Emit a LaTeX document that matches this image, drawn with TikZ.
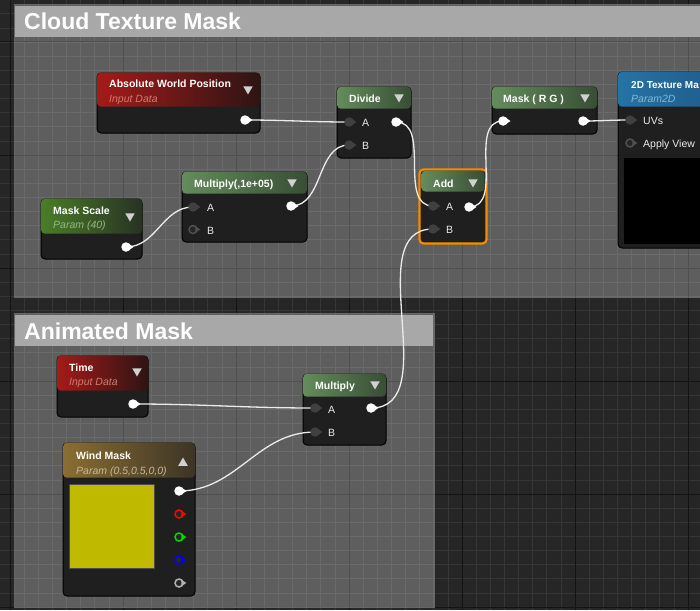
\documentclass[tikz,border=0pt]{standalone}
\usepackage{fontspec}
\setmainfont{Liberation Sans}
\usetikzlibrary{shapes.geometric}
\pgfdeclarelayer{bg}
\pgfdeclarelayer{wires}
\pgfdeclarelayer{top}
\pgfsetlayers{bg,main,wires,top}
\definecolor{canvas}{RGB}{38,38,38}
\definecolor{gridminor}{RGB}{54,54,54}
\definecolor{gridmajor}{RGB}{20,20,20}
\definecolor{combar}{RGB}{168,168,168}
\definecolor{uebody}{RGB}{31,31,31}
\definecolor{pingray}{RGB}{64,64,64}
\definecolor{hollowrim}{RGB}{80,80,80}
\definecolor{opleft}{RGB}{100,140,92}
\definecolor{opright}{RGB}{56,78,53}
\definecolor{inleft}{RGB}{165,26,26}
\definecolor{inright}{RGB}{46,20,20}
\definecolor{inlabel}{RGB}{205,125,110}
\definecolor{parleft}{RGB}{74,125,40}
\definecolor{parright}{RGB}{40,50,36}
\definecolor{parlabel}{RGB}{150,185,130}
\definecolor{vecleft}{RGB}{138,110,50}
\definecolor{vecright}{RGB}{60,52,38}
\definecolor{veclabel}{RGB}{200,185,150}
\definecolor{texleft}{RGB}{38,114,166}
\definecolor{texright}{RGB}{28,88,132}
\definecolor{texlabel}{RGB}{130,185,215}
\definecolor{swatch}{RGB}{191,186,0}
\definecolor{selorange}{RGB}{242,140,0}
\tikzset{
    ue body/.style={draw=black, line width=1pt, fill=uebody, rounded corners=4pt,
        inner sep=0pt},
    ue head/.style={rounded corners=4pt, inner sep=0pt, anchor=north},
    ue title/.style={anchor=base west, text=white, inner sep=0pt,
        font=\bfseries\fontsize{10.5}{12}\selectfont},
    ue sub/.style={anchor=base west, inner sep=0pt,
        font=\itshape\fontsize{10.5}{12}\selectfont},
    pinlab/.style={anchor=base west, text=white!92!black, inner sep=0pt,
        font=\fontsize{10.5}{12}\selectfont},
    outpin/.style={circle, fill=white, minimum size=9.5pt, inner sep=0pt},
    inpin/.style={circle, fill=pingray, minimum size=9.5pt, inner sep=0pt},
    hollowpin/.style={circle, draw=#1, line width=1.5pt, fill=black!85,
        minimum size=8pt, inner sep=0pt},
    hollowpin/.default=hollowrim,
    dropdown/.style={regular polygon, regular polygon sides=3,
        shape border rotate=180, fill=white!82!black, minimum size=11pt,
        inner sep=0pt},
    wire/.style={white!92!black, line width=1.3pt},
    comment/.style={fill=white, fill opacity=0.26, draw=black!60, line width=0.8pt},
    comment title/.style={anchor=base west, text=white, inner sep=0pt,
        font=\bfseries\fontsize{23}{26}\selectfont}
}

\begin{document}
\begin{tikzpicture}[x=1pt, y=-1pt]
    \useasboundingbox (0,0) rectangle (700,610);

    % canvas, grid and comment boxes
    \begin{pgfonlayer}{bg}
    \fill[canvas] (0,0) rectangle (700,610);
    \foreach \i in {-33,...,17}
        \draw[gridminor, line width=0.7pt] (462+\i*14.125,0) -- (462+\i*14.125,610);
    \foreach \j in {-35,...,9}
        \draw[gridminor, line width=0.7pt] (0,494+\j*14.125) -- (700,494+\j*14.125);
    \foreach \i in {-4,...,2}
        \draw[gridmajor, line width=1pt] (462+\i*113,0) -- (462+\i*113,610);
    \foreach \j in {-4,...,1}
        \draw[gridmajor, line width=1pt] (0,494+\j*113) -- (700,494+\j*113);

    \path[comment] (14,4) rectangle (706,297);
    \fill[combar] (15,6) rectangle (706,37);
    \node (cl-t) [comment title] at (24,30) {Cloud Texture Mask};

    \path[comment] (14,313) rectangle (434,607);
    \fill[combar] (15,315) rectangle (433,346);
    \node (an-t) [comment title] at (24,339) {Animated Mask};
    \end{pgfonlayer}

    % Absolute World Position
    \node (aw) [ue body, minimum width=163pt, minimum height=60pt] at (178.5,103) {};
    \node (aw-h) [ue head, minimum width=163pt, minimum height=34pt,
        left color=inleft, right color=inright] at (aw.north) {};
    \node (aw-t) [ue title] at (109,87.5) {Absolute World Position};
    \node (aw-s) [ue sub, text=inlabel] at (109,102.5) {Input Data};
    \node (aw-d) [dropdown] at (248,89) {};

    % Divide
    \node (dv) [ue body, minimum width=74pt, minimum height=71pt] at (374,122.5) {};
    \node (dv-h) [ue head, minimum width=74pt, minimum height=22pt,
        left color=opleft, right color=opright] at (dv.north) {};
    \node (dv-t) [ue title] at (349,102) {Divide};
    \node (dv-d) [dropdown] at (399,97) {};
    \node (dv-la) [pinlab] at (362,126) {A};
    \node (dv-lb) [pinlab] at (362,149) {B};

    % Mask (R G)
    \node (mk) [ue body, minimum width=105pt, minimum height=47pt] at (544.5,110.5) {};
    \node (mk-h) [ue head, minimum width=105pt, minimum height=22pt,
        left color=opleft, right color=opright] at (mk.north) {};
    \node (mk-t) [ue title] at (503,102) {Mask ( R G )};
    \node (mk-d) [dropdown] at (585,97) {};

    % 2D Texture sample
    \node (tx) [ue body, minimum width=124pt, minimum height=176pt] at (680,160) {};
    \node (tx-h) [ue head, minimum width=124pt, minimum height=35pt,
        left color=texleft, right color=texright] at (tx.north) {};
    \node (tx-t) [ue title, font=\bfseries\fontsize{10}{12}\selectfont] at (631,88) {2D Texture Ma};
    \node (tx-s) [ue sub, text=texlabel] at (631,102) {Param2D};
    \node (tx-lu) [pinlab] at (643,124) {UVs};
    \node (tx-la) [pinlab] at (643,147) {Apply View};
    \node (tx-pv) [fill=black, inner sep=0pt, minimum width=84pt,
        minimum height=86pt] at (666,201) {};

    % Multiply(,1e+05)
    \node (m1) [ue body, minimum width=125pt, minimum height=70pt] at (244.5,207) {};
    \node (m1-h) [ue head, minimum width=125pt, minimum height=22pt,
        left color=opleft, right color=opright] at (m1.north) {};
    \node (m1-t) [ue title] at (194,187) {Multiply(,1e+05)};
    \node (m1-d) [dropdown] at (292,182) {};
    \node (m1-la) [pinlab] at (207,211) {A};
    \node (m1-lb) [pinlab] at (207,234) {B};

    % Mask Scale
    \node (ms) [ue body, minimum width=101pt, minimum height=60pt] at (91.5,229) {};
    \node (ms-h) [ue head, minimum width=101pt, minimum height=35pt,
        left color=parleft, right color=parright] at (ms.north) {};
    \node (ms-t) [ue title] at (53,214) {Mask Scale};
    \node (ms-s) [ue sub, text=parlabel] at (53,228.5) {Param (40)};
    \node (ms-d) [dropdown] at (130,216) {};

    % Add (selected)
    \node (ad) [ue body, draw=selorange, line width=2.2pt, minimum width=67pt,
        minimum height=74pt] at (453,206.5) {};
    \node (ad-h) [ue head, minimum width=63pt, minimum height=21pt,
        left color=opleft, right color=opright] at ([yshift=-2pt]ad.north) {};
    \node (ad-t) [ue title] at (433,187) {Add};
    \node (ad-d) [dropdown] at (473,182) {};
    \node (ad-la) [pinlab] at (446,210.5) {A};
    \node (ad-lb) [pinlab] at (446,233.5) {B};

    % Time
    \node (tm) [ue body, minimum width=91pt, minimum height=61pt] at (102.5,386.5) {};
    \node (tm-h) [ue head, minimum width=91pt, minimum height=35pt,
        left color=inleft, right color=inright] at (tm.north) {};
    \node (tm-t) [ue title] at (69,371) {Time};
    \node (tm-s) [ue sub, text=inlabel] at (69,385.5) {Input Data};
    \node (tm-d) [dropdown] at (137,371) {};

    % Multiply
    \node (m2) [ue body, minimum width=83pt, minimum height=71pt] at (344.5,409.5) {};
    \node (m2-h) [ue head, minimum width=83pt, minimum height=23pt,
        left color=opleft, right color=opright] at (m2.north) {};
    \node (m2-t) [ue title] at (315,389.5) {Multiply};
    \node (m2-d) [dropdown] at (375,384) {};
    \node (m2-la) [pinlab] at (328,413) {A};
    \node (m2-lb) [pinlab] at (328,436) {B};

    % Wind Mask
    \node (wm) [ue body, minimum width=132pt, minimum height=153pt] at (129,519.5) {};
    \node (wm-h) [ue head, minimum width=132pt, minimum height=35pt,
        left color=vecleft, right color=vecright] at (wm.north) {};
    \node (wm-t) [ue title] at (76,459) {Wind Mask};
    \node (wm-s) [ue sub, text=veclabel] at (76,474) {Param (0.5,0.5,0,0)};
    \node (wm-d) [dropdown, shape border rotate=0] at (183,463) {};
    \node (wm-sw) [fill=swatch, draw=black!70, inner sep=0pt, minimum width=85pt,
        minimum height=84pt] at (111.5,526) {};

    % pins
    \begin{pgfonlayer}{top}
    \node (aw-out) [outpin] at (245,120) {};
    \node (dv-a) [inpin] at (349,122) {};
    \node (dv-b) [inpin] at (349,145) {};
    \node (dv-out) [outpin] at (396,122) {};
    \node (mk-in) [outpin] at (503,121) {};
    \node (mk-out) [outpin] at (583,121) {};
    \node (tx-uv) [inpin] at (630,120) {};
    \node (tx-av) [hollowpin] at (630,143) {};
    \node (m1-a) [inpin] at (193,207) {};
    \node (m1-b) [hollowpin] at (193,229.5) {};
    \node (m1-out) [outpin] at (291,206) {};
    \node (ms-out) [outpin] at (126,247) {};
    \node (ad-a) [inpin] at (433,206) {};
    \node (ad-b) [inpin] at (433,229) {};
    \node (ad-out) [outpin] at (469,207) {};
    \node (tm-out) [outpin] at (133,404) {};
    \node (m2-a) [inpin] at (315,408) {};
    \node (m2-b) [inpin] at (315,432) {};
    \node (m2-out) [outpin] at (371,408) {};
    \node (wm-out) [outpin] at (179,491) {};
    \node (wm-r) [hollowpin=red] at (179,514) {};
    \node (wm-g) [hollowpin=green!85!black] at (179,537) {};
    \node (wm-b) [hollowpin=blue] at (179,560) {};
    \node (wm-a) [hollowpin=white!70!black] at (179,583) {};
    \foreach \p/\c in {aw-out/white, dv-a/pingray, dv-b/pingray, dv-out/white,
        mk-in/white, mk-out/white, tx-uv/pingray, tx-av/hollowrim,
        m1-a/pingray, m1-b/hollowrim, m1-out/white, ms-out/white,
        ad-a/pingray, ad-b/pingray, ad-out/white, tm-out/white,
        m2-a/pingray, m2-b/pingray, m2-out/white, wm-out/white,
        wm-r/red, wm-g/green!85!black, wm-b/blue, wm-a/white!70!black}
        \fill[\c] ([xshift=-1pt]\p.north east) -- ([xshift=2.5pt]\p.east)
            -- ([xshift=-1pt]\p.south east) -- cycle;
    \end{pgfonlayer}

    % wires
    \begin{pgfonlayer}{wires}
    \draw[wire] (aw-out.center) to[out=0, in=180] (dv-a.center);
    \draw[wire] (m1-out.center) to[out=0, in=180] (dv-b.center);
    \draw[wire] (ms-out.center) to[out=0, in=180] (m1-a.center);
    \draw[wire] (dv-out.center) to[out=0, in=180] (ad-a.center);
    \draw[wire] (ad-out.center) to[out=0, in=180] (mk-in.center);
    \draw[wire] (mk-out.center) to[out=0, in=180] (tx-uv.center);
    \draw[wire] (m2-out.center) to[out=0, in=180] (ad-b.center);
    \draw[wire] (tm-out.center) to[out=0, in=180] (m2-a.center);
    \draw[wire] (wm-out.center) to[out=0, in=180] (m2-b.center);
    \end{pgfonlayer}
\end{tikzpicture}
\end{document}
